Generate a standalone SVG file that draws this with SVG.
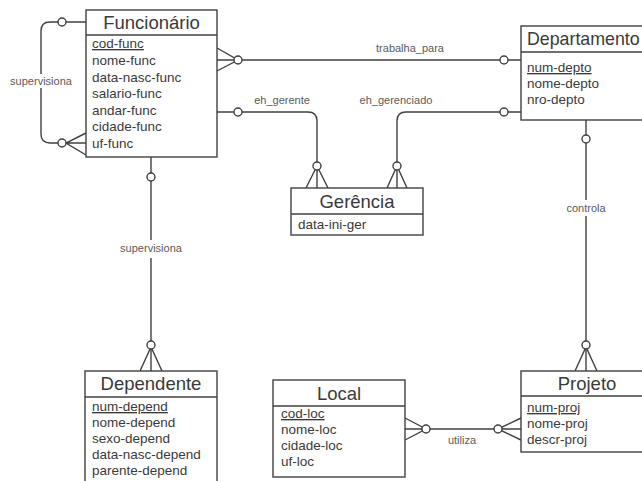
<svg xmlns="http://www.w3.org/2000/svg" width="642" height="481" viewBox="0 0 642 481">
<style>
  .box{fill:#fff;stroke:#404040;stroke-width:1.4}
  .div{stroke:#404040;stroke-width:1.4}
  .title{font-family:"Liberation Sans",Arial,sans-serif;font-size:18.5px;fill:#3a3a3a;text-anchor:middle}
  .attr{font-family:"Liberation Sans",Arial,sans-serif;font-size:13.5px;fill:#3a3a3a}
  .key{text-decoration:underline}
  .ln{fill:none;stroke:#404040;stroke-width:1.4}
  .ring{fill:#fff;stroke:#404040;stroke-width:1.4}
  .lbl{font-family:"Liberation Sans",Arial,sans-serif;font-size:11px;fill:#5a5a5a;text-anchor:middle}
</style>
<rect width="642" height="481" fill="#fff"/>
<g id="connectors">
  <path class="ln" d="M86,22 H50 Q41,22 41,31 V134 Q41,143 50,143 H66"/>
  <path class="ln" d="M86,133 L66,143 L86,155 M66,143 H86"/>
  <circle class="ring" cx="62" cy="22" r="4"/>
  <circle class="ring" cx="62" cy="143" r="4"/>
  <rect x="6" y="74" width="70" height="14" fill="#fff"/>
  <text class="lbl" x="41" y="85">supervisiona</text>
  <path class="ln" d="M217,48 L238,60 L217,71 M217,60 H521"/>
  <circle class="ring" cx="238" cy="60" r="4"/>
  <circle class="ring" cx="504" cy="60" r="4"/>
  <text class="lbl" x="410" y="52">trabalha_para</text>
  <path class="ln" d="M217,112 H308 Q317,112 317,121 V166"/>
  <path class="ln" d="M306,188 L317,166 L328,188 M317,166 V188"/>
  <circle class="ring" cx="238" cy="112" r="4"/>
  <circle class="ring" cx="317" cy="166" r="4"/>
  <text class="lbl" x="282" y="104">eh_gerente</text>
  <path class="ln" d="M521,112 H406 Q397,112 397,121 V166"/>
  <path class="ln" d="M387,188 L397,166 L407,188 M397,166 V188"/>
  <circle class="ring" cx="504" cy="112" r="4"/>
  <circle class="ring" cx="397" cy="166" r="4"/>
  <text class="lbl" x="396" y="104">eh_gerenciado</text>
  <path class="ln" d="M586,120 V371"/>
  <path class="ln" d="M575,371 L586,347 L597,371"/>
  <circle class="ring" cx="586" cy="139" r="4"/>
  <circle class="ring" cx="586" cy="345" r="4"/>
  <rect x="560" y="200" width="52" height="16" fill="#fff"/>
  <text class="lbl" x="586" y="212">controla</text>
  <path class="ln" d="M151,157 V371"/>
  <path class="ln" d="M140,371 L151,347 L162,371"/>
  <circle class="ring" cx="151" cy="177" r="4"/>
  <circle class="ring" cx="151" cy="345" r="4"/>
  <rect x="112" y="240" width="78" height="18" fill="#fff"/>
  <text class="lbl" x="151" y="252">supervisiona</text>
  <path class="ln" d="M405,418 L426,429 L405,440 M405,429 H521"/>
  <path class="ln" d="M521,418 L498,429 L521,440"/>
  <circle class="ring" cx="426" cy="429" r="4"/>
  <circle class="ring" cx="498" cy="429" r="4"/>
  <text class="lbl" x="462" y="444">utiliza</text>
</g>
<g id="funcionario">
  <rect class="box" x="86" y="10" width="131" height="147"/>
  <line class="div" x1="86" y1="35" x2="217" y2="35"/>
  <text class="title" x="151.5" y="29">Funcionário</text>
  <text class="attr key" x="92" y="48">cod-func</text>
  <text class="attr" x="92" y="65">nome-func</text>
  <text class="attr" x="92" y="81.5">data-nasc-func</text>
  <text class="attr" x="92" y="98">salario-func</text>
  <text class="attr" x="92" y="114.5">andar-func</text>
  <text class="attr" x="92" y="131">cidade-func</text>
  <text class="attr" x="92" y="147.5">uf-func</text>
</g>
<g id="departamento">
  <rect class="box" x="521" y="26" width="131" height="94"/>
  <line class="div" x1="521" y1="52" x2="652" y2="52"/>
  <text class="title" x="527" y="45" style="text-anchor:start;font-size:17.8px">Departamento</text>
  <text class="attr key" x="527" y="72">num-depto</text>
  <text class="attr" x="527" y="88">nome-depto</text>
  <text class="attr" x="527" y="104">nro-depto</text>
</g>
<g id="gerencia">
  <rect class="box" x="291" y="188" width="132" height="47"/>
  <line class="div" x1="291" y1="214" x2="423" y2="214"/>
  <text class="title" x="357" y="208">Gerência</text>
  <text class="attr" x="298" y="229">data-ini-ger</text>
</g>
<g id="dependente">
  <rect class="box" x="85" y="371" width="132" height="120"/>
  <line class="div" x1="85" y1="397" x2="217" y2="397"/>
  <text class="title" x="151" y="390">Dependente</text>
  <text class="attr key" x="92" y="411">num-depend</text>
  <text class="attr" x="92" y="427">nome-depend</text>
  <text class="attr" x="92" y="443">sexo-depend</text>
  <text class="attr" x="92" y="459">data-nasc-depend</text>
  <text class="attr" x="92" y="475">parente-depend</text>
</g>
<g id="local">
  <rect class="box" x="273" y="380" width="132" height="97"/>
  <line class="div" x1="273" y1="406" x2="405" y2="406"/>
  <text class="title" x="339" y="400">Local</text>
  <text class="attr key" x="281" y="418">cod-loc</text>
  <text class="attr" x="281" y="434">nome-loc</text>
  <text class="attr" x="281" y="450">cidade-loc</text>
  <text class="attr" x="281" y="466">uf-loc</text>
</g>
<g id="projeto">
  <rect class="box" x="521" y="371" width="131" height="81"/>
  <line class="div" x1="521" y1="396" x2="652" y2="396"/>
  <text class="title" x="587" y="390">Projeto</text>
  <text class="attr key" x="527" y="412">num-proj</text>
  <text class="attr" x="527" y="428">nome-proj</text>
  <text class="attr" x="527" y="444">descr-proj</text>
</g>
</svg>
